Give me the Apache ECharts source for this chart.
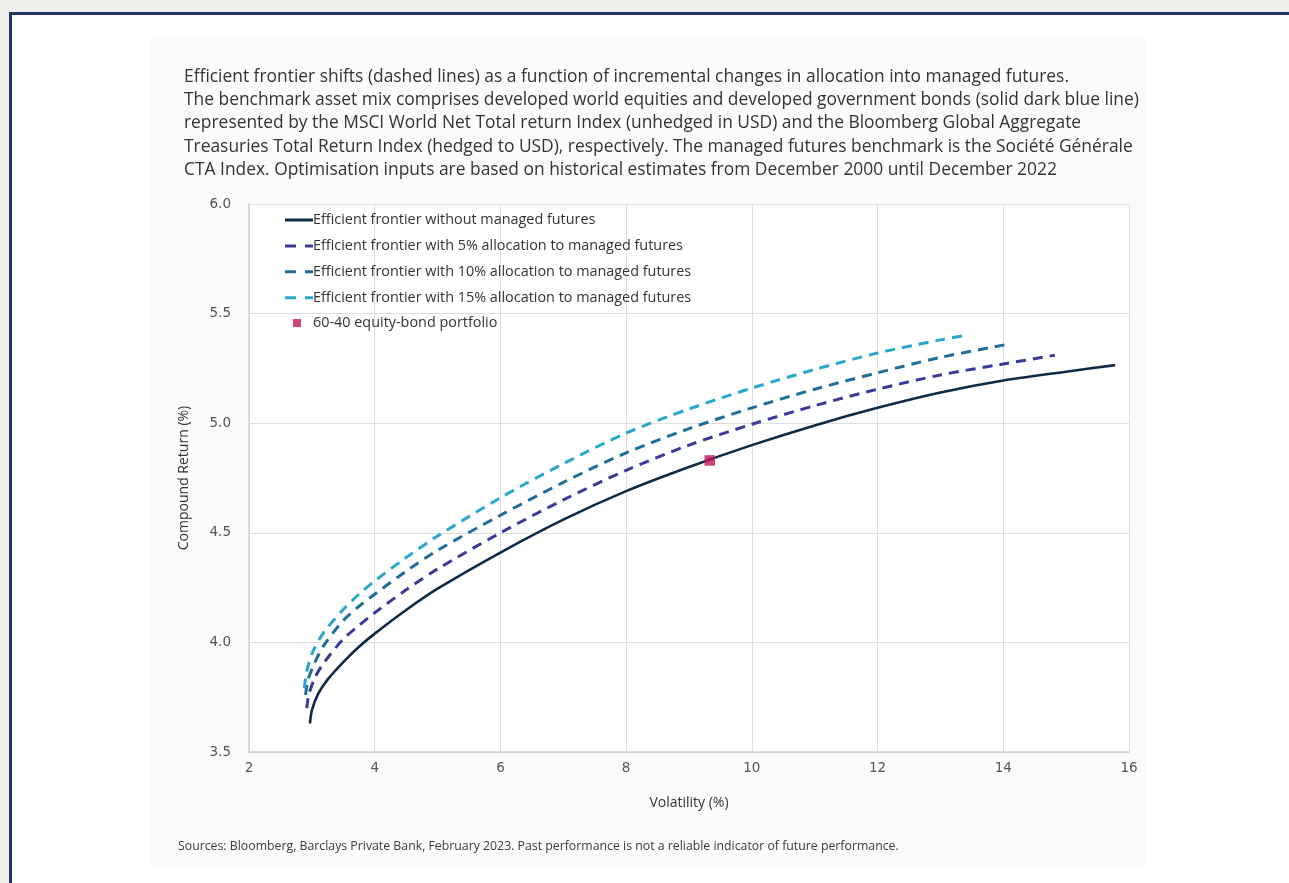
<!DOCTYPE html>
<html>
<head>
<meta charset="utf-8">
<script src="https://cdn.jsdelivr.net/npm/echarts@6/dist/echarts.min.js"></script>
<style>
html,body{margin:0;padding:0;background:#efeeea;}
#chart{width:1289px;height:883px;}
</style>
</head>
<body>
<div id="chart"></div>
<script>
// ---- data (volatility %, compound return %) ----
const seriesNames = [
  'Efficient frontier without managed futures',
  'Efficient frontier with 5% allocation to managed futures',
  'Efficient frontier with 10% allocation to managed futures',
  'Efficient frontier with 15% allocation to managed futures',
  '60-40 equity-bond portfolio'
];
const frontierNoMF = [[2.97,3.63],[3.0,3.69],[3.1,3.765],[3.25,3.83],[3.5,3.91],[3.75,3.98],[4,4.04],[4.5,4.148],[5,4.245],[6,4.41],[7,4.56],[8,4.69],[9,4.80],[10,4.90],[11,4.99],[12,5.07],[13,5.14],[14,5.195],[15,5.235],[15.78,5.265]];
const frontier5 = [[2.92,3.70],[2.95,3.76],[3.05,3.84],[3.2,3.91],[3.5,4.015],[3.75,4.077],[4,4.135],[4.5,4.24],[5,4.335],[6,4.50],[7,4.65],[8,4.785],[9,4.90],[10,4.995],[11,5.08],[12,5.155],[13,5.22],[14,5.27],[14.82,5.31]];
const frontier10 = [[2.90,3.76],[2.94,3.83],[3.05,3.91],[3.2,3.99],[3.5,4.10],[3.75,4.165],[4,4.22],[4.5,4.325],[5,4.42],[6,4.58],[7,4.73],[8,4.865],[9,4.975],[10,5.07],[11,5.155],[12,5.23],[13,5.30],[14.07,5.36]];
const frontier15 = [[2.88,3.79],[2.92,3.87],[3.02,3.96],[3.2,4.05],[3.5,4.15],[3.75,4.22],[4,4.28],[4.5,4.387],[5,4.485],[6,4.66],[7,4.815],[8,4.955],[9,5.065],[10,5.16],[11,5.245],[12,5.32],[13,5.38],[13.39,5.40]];
const portfolio6040 = [[9.33,4.83]];
const xTicks = {min:2, max:16, interval:2};
const yTicks = {min:3.5, max:6.0, interval:0.5};

const titleText = 'Efficient frontier shifts (dashed lines) as a function of incremental changes in allocation into managed futures.\n' +
 'The benchmark asset mix comprises developed world equities and developed government bonds (solid dark blue line)\n' +
 'represented by the MSCI World Net Total return Index (unhedged in USD) and the Bloomberg Global Aggregate\n' +
 'Treasuries Total Return Index (hedged to USD), respectively. The managed futures benchmark is the Société Générale\n' +
 'CTA Index. Optimisation inputs are based on historical estimates from December 2000 until December 2022';
const sourceText = 'Sources: Bloomberg, Barclays Private Bank, February 2023. Past performance is not a reliable indicator of future performance.';

const colors = ['#0f2a44','#3b3a98','#1f6e98','#2aa7cc','#c0145a'];
const FONT = 'Open Sans';
const TICKFONT = 'DejaVu Sans';
const solidIcon = 'path://M0,0H28V3H0Z';
const dashIcon = 'path://M0,0H11V3H0Z M20,0H28V3H20Z';

const chart = echarts.init(document.getElementById('chart'), null, {renderer:'canvas'});
function lineSeries(i, data, dashed){
  return {
    name: seriesNames[i], type:'line', data: data, smooth: 0.3,
    symbol:'none', z: 3,
    lineStyle:{color: colors[i], width: dashed?3:2.6, type: dashed?[10,7]:'solid', cap:'butt'},
    itemStyle:{color: colors[i]}
  };
}
const option = {
  animation:false,
  backgroundColor:'#efeeea',
  textStyle:{fontFamily:FONT},
  graphic:[
    {type:'rect', shape:{x:9,y:12,width:1300,height:900}, style:{fill:'#ffffff'}, z:-10, silent:true},
    {type:'rect', shape:{x:150,y:36,width:996,height:830}, style:{fill:'#fbfbfb'}, z:-9, silent:true},
    {type:'rect', shape:{x:9,y:12,width:1300,height:3}, style:{fill:'#25346b'}, z:-8, silent:true},
    {type:'rect', shape:{x:9,y:12,width:3,height:900}, style:{fill:'#25346b'}, z:-8, silent:true},
    {type:'text', left:178, top:840, style:{text:sourceText, fill:'#3a3a3a', font:'12.3px "'+FONT+'"'}}
  ],
  title:{
    text:titleText, left:179, top:60,
    textStyle:{fontFamily:FONT, fontSize:17.4, fontWeight:'normal', color:'#333333', lineHeight:23.3}
  },
  grid:{left:249, right:160, top:204, bottom:131, containLabel:false, backgroundColor:'#ffffff', show:true, borderWidth:0},
  legend:[
    {
      data: seriesNames.slice(0,4).map((n,i)=>({name:n, icon: i===0?solidIcon:dashIcon})),
      orient:'vertical', left:280, top:207.5, itemGap:10.9,
      itemWidth:28, itemHeight:3, selectedMode:false,
      textStyle:{fontFamily:FONT, fontSize:14.4, color:'#333333', lineHeight:15, padding:[0,0,0,-5]}
    },
    {
      data:[{name:seriesNames[4], icon:'rect'}], orient:'vertical', left:288, top:310.5,
      itemWidth:8, itemHeight:8, selectedMode:false,
      textStyle:{fontFamily:FONT, fontSize:14.4, color:'#333333', lineHeight:15, padding:[0,0,0,7]}
    }
  ],
  xAxis:{
    type:'value', min:xTicks.min, max:xTicks.max, interval:xTicks.interval,
    name:'Volatility (%)', nameLocation:'middle', nameGap:44,
    nameTextStyle:{fontFamily:FONT, fontSize:14, color:'#333333'},
    axisLine:{show:true, lineStyle:{color:'#d0d0d0', width:1.5}},
    axisTick:{show:false},
    axisLabel:{color:'#555555', fontSize:13.5, fontFamily:TICKFONT, margin:9},
    splitLine:{show:true, lineStyle:{color:'#dedede', width:1}}
  },
  yAxis:{
    type:'value', min:yTicks.min, max:yTicks.max, interval:yTicks.interval,
    name:'Compound Return (%)', nameLocation:'middle', nameGap:58, nameRotate:90,
    nameTextStyle:{fontFamily:FONT, fontSize:14, color:'#333333'},
    axisLine:{show:true, lineStyle:{color:'#d0d0d0', width:1.5}},
    axisTick:{show:false},
    axisLabel:{color:'#555555', fontSize:13.5, fontFamily:TICKFONT, margin:18, formatter:v=>v.toFixed(1)},
    splitLine:{show:true, lineStyle:{color:'#dedede', width:1}}
  },
  series:[
    lineSeries(0, frontierNoMF, false),
    lineSeries(1, frontier5, true),
    lineSeries(2, frontier10, true),
    lineSeries(3, frontier15, true),
    {name:seriesNames[4], type:'scatter', data:portfolio6040, symbol:'rect', symbolSize:10.5, z:5,
     itemStyle:{color:colors[4]}}
  ]
};
chart.setOption(option);
</script>
</body>
</html>
